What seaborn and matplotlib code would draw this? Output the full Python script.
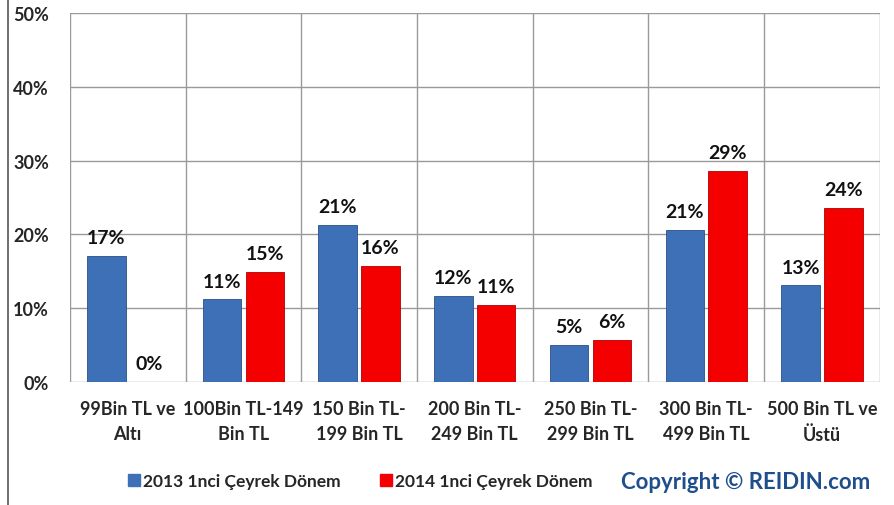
import matplotlib
matplotlib.use("Agg")
import matplotlib.pyplot as plt
import matplotlib.lines as mlines
import numpy as np
import pandas as pd
import seaborn as sns

categories = ["99Bin TL ve\nAltı", "100Bin TL-149\nBin TL", "150 Bin TL-\n199 Bin TL",
              "200 Bin TL-\n249 Bin TL", "250 Bin TL-\n299 Bin TL", "300 Bin TL-\n499 Bin TL",
              "500 Bin TL ve\nÜstü"]
series_names = ["2013 1nci Çeyrek Dönem", "2014 1nci Çeyrek Dönem"]
values_2013 = [17.1, 11.2, 21.3, 11.7, 5.0, 20.6, 13.1]
values_2014 = [0.0, 14.9, 15.7, 10.5, 5.7, 28.6, 23.6]
labels_2013 = [17, 11, 21, 12, 5, 21, 13]
labels_2014 = [0, 15, 16, 11, 6, 29, 24]
yticks = [0, 10, 20, 30, 40, 50]

blue = "#3E70B8"
red = "#F40000"

df = pd.DataFrame({
    "cat": categories * 2,
    "series": [series_names[0]] * 7 + [series_names[1]] * 7,
    "value": values_2013 + values_2014,
})

sns.set_style("white")
plt.rcParams["font.family"] = ["Lato", "DejaVu Sans"]

fig = plt.figure(figsize=(8.95, 5.06), dpi=100)
ax = fig.add_axes([0.078, 0.243, 0.905, 0.729])

sns.barplot(data=df, x="cat", y="value", hue="series", palette=[blue, red],
            width=0.74, gap=0.1, ax=ax, legend=False, saturation=1,
            edgecolor="#2a4f85", linewidth=0.6)
for patch in ax.patches[7:]:
    patch.set_edgecolor("#b00000")

for cont, labs in zip(ax.containers, [labels_2013, labels_2014]):
    ax.bar_label(cont, labels=[f"{v}%" for v in labs], padding=7,
                 fontsize=14, fontweight="bold", color="#111111")

ax.set_ylim(0, 50)
ax.set_xlim(-0.5, 6.5)
ax.set_yticks(yticks)
ax.set_yticklabels([f"{v}%" for v in yticks], fontsize=13, fontweight="bold")
ax.set_xticks(range(7))
ax.set_xticklabels(categories, fontsize=13, fontweight="bold", linespacing=1.55)
ax.set_xticks(np.arange(-0.5, 7, 1), minor=True)
ax.tick_params(axis="both", which="both", length=0)
ax.tick_params(axis="y", pad=15)
ax.tick_params(axis="x", pad=13)
ax.set_xlabel("")
ax.set_ylabel("")
ax.grid(axis="y", color="#9a9a9a", linewidth=1)
ax.grid(axis="x", which="minor", color="#9a9a9a", linewidth=1)
ax.set_axisbelow(True)
for s in ax.spines.values():
    s.set_visible(False)

handles = [mlines.Line2D([], [], marker="s", linestyle="none", markersize=9,
                         markerfacecolor=c, markeredgecolor=c) for c in [blue, red]]
fig.legend(handles, series_names, loc="center", bbox_to_anchor=(0.402, 0.047), ncol=2,
           frameon=False, handletextpad=0.1, columnspacing=2.2,
           handlelength=0.8, prop={"weight": "bold", "size": 12.5})
fig.text(0.972, 0.047, "Copyright © REIDIN.com", ha="right", va="center",
         fontsize=16, fontweight="bold", color="#1F4E8C")
fig.add_artist(mlines.Line2D([0.009, 0.009], [0, 1], color="#555555", linewidth=1.2))

fig.savefig("out.png", dpi=100)
